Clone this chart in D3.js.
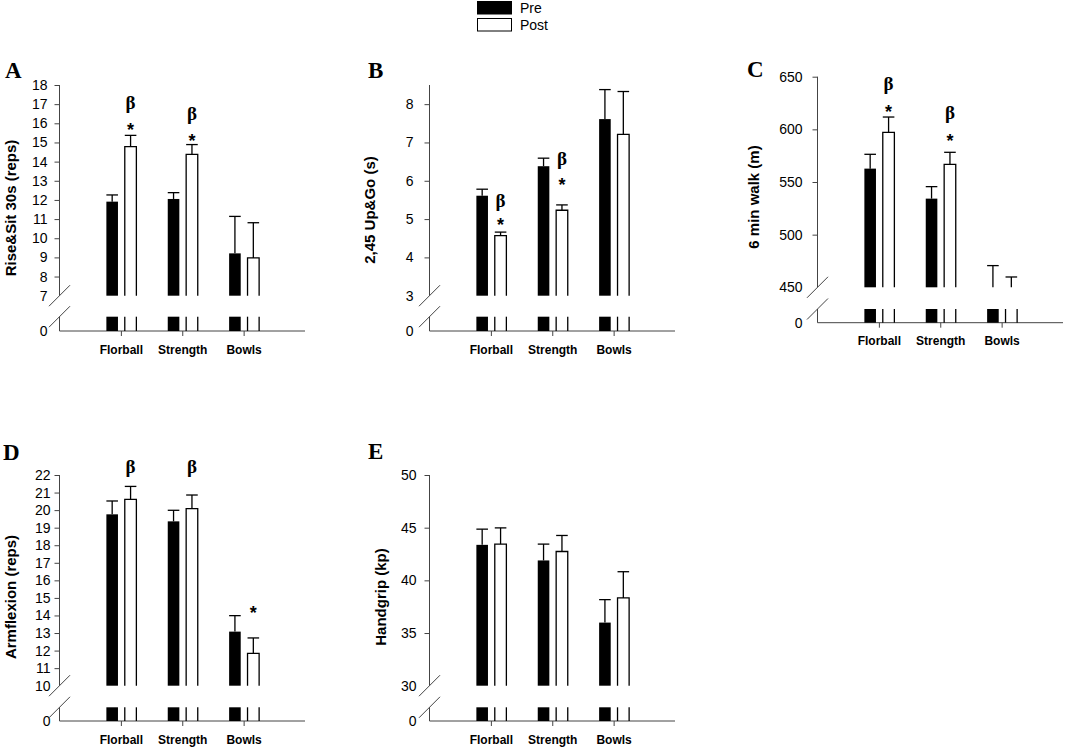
<!DOCTYPE html>
<html>
<head>
<meta charset="utf-8">
<script src="https://cdn.jsdelivr.net/npm/d3@7"></script>
<style>
  body { margin: 0; background: #fff; }
</style>
</head>
<body>
<svg id="chart" width="1065" height="747" font-family="Arial, 'Liberation Sans', sans-serif"></svg>
<script>
var groups = ["Florball", "Strength", "Bowls"];
var phases = ["Pre", "Post"];

// A - Rise&Sit 30s (reps), mean and SE
var riseSitPre = [11.91, 12.05, 9.21];
var riseSitPreSE = [0.35, 0.33, 1.93];
var riseSitPost = [14.78, 14.38, 8.97];
var riseSitPostSE = [0.59, 0.51, 1.84];
var riseSitTicks = [7, 8, 9, 10, 11, 12, 13, 14, 15, 16, 17, 18];
var riseSitMarks = [
  {group: "Florball", text: "β", at: 17.0}, {group: "Florball", text: "*", at: 15.9},
  {group: "Strength", text: "β", at: 16.45}, {group: "Strength", text: "*", at: 15.35}
];

// B - 2,45 Up&Go (s)
var upGoPre = [5.61, 6.38, 7.61];
var upGoPreSE = [0.17, 0.21, 0.77];
var upGoPost = [4.57, 5.23, 7.21];
var upGoPostSE = [0.09, 0.14, 1.12];
var upGoTicks = [3, 4, 5, 6, 7, 8];
var upGoMarks = [
  {group: "Florball", text: "β", at: 5.45}, {group: "Florball", text: "*", at: 4.98},
  {group: "Strength", text: "β", at: 6.54}, {group: "Strength", text: "*", at: 6.02}
];

// C - 6 min walk (m); Bowls means fall below the axis break
var walkPre = [562.7, 534.2, 445];
var walkPreSE = [13.6, 11.4, 25.6];
var walkPost = [597.2, 566.8, 445];
var walkPostSE = [14.5, 11.4, 14.8];
var walkTicks = [450, 500, 550, 600, 650];
var walkMarks = [
  {group: "Florball", text: "β", at: 642}, {group: "Florball", text: "*", at: 621},
  {group: "Strength", text: "β", at: 614.5}, {group: "Strength", text: "*", at: 593.5}
];

// D - Armflexion (reps)
var armPre = [19.76, 19.36, 13.08];
var armPreSE = [0.76, 0.63, 0.91];
var armPost = [20.61, 20.08, 11.84];
var armPostSE = [0.74, 0.78, 0.88];
var armTicks = [10, 11, 12, 13, 14, 15, 16, 17, 18, 19, 20, 21, 22];
var armMarks = [
  {group: "Florball", text: "β", at: 22.4},
  {group: "Strength", text: "β", at: 22.4},
  {group: "Bowls", text: "*", at: 14.4}
];

// E - Handgrip (kp)
var gripPre = [43.37, 41.89, 35.99];
var gripPreSE = [1.49, 1.55, 2.18];
var gripPost = [43.44, 42.74, 38.33];
var gripPostSE = [1.54, 1.52, 2.49];
var gripTicks = [30, 35, 40, 45, 50];
var gripMarks = [];

var panels = [
  {letter: "A", title: "Rise&Sit 30s (reps)", pre: riseSitPre, preSE: riseSitPreSE, post: riseSitPost, postSE: riseSitPostSE,
   ticks: riseSitTicks, marks: riseSitMarks, lo: 7, hi: 18,
   x0: 59.5, x1: 305, yTop: 85, yBreak: 295.7, yLow: 316.7, yZero: 331, pad: 7,
   letterX: 5, letterY: 78, labelX: 10, labelY: 208},
  {letter: "B", title: "2,45 Up&Go (s)", pre: upGoPre, preSE: upGoPreSE, post: upGoPost, postSE: upGoPostSE,
   ticks: upGoTicks, marks: upGoMarks, lo: 3, hi: 8.5,
   x0: 429.5, x1: 675, yTop: 85, yBreak: 295.7, yLow: 316.7, yZero: 331, pad: 11,
   letterX: 368, letterY: 78, labelX: 369.5, labelY: 210},
  {letter: "C", title: "6 min walk (m)", pre: walkPre, preSE: walkPreSE, post: walkPost, postSE: walkPostSE,
   ticks: walkTicks, marks: walkMarks, lo: 450, hi: 650,
   x0: 817.5, x1: 1063, yTop: 76.7, yBreak: 287.3, yLow: 309, yZero: 322.7, pad: 10,
   letterX: 747, letterY: 77, labelX: 753, labelY: 197},
  {letter: "D", title: "Armflexion (reps)", pre: armPre, preSE: armPreSE, post: armPost, postSE: armPostSE,
   ticks: armTicks, marks: armMarks, lo: 10, hi: 22,
   x0: 59.5, x1: 305, yTop: 475, yBreak: 685.7, yLow: 707.3, yZero: 721, pad: 4,
   letterX: 3, letterY: 460, labelX: 10, labelY: 597},
  {letter: "E", title: "Handgrip (kp)", pre: gripPre, preSE: gripPreSE, post: gripPost, postSE: gripPostSE,
   ticks: gripTicks, marks: gripMarks, lo: 30, hi: 50,
   x0: 429.5, x1: 675, yTop: 475, yBreak: 685.7, yLow: 707.3, yZero: 721, pad: 8,
   letterX: 368, letterY: 459, labelX: 380, labelY: 597}
];

var svg = d3.select("#chart");
var axisColor = "#444";
var sans = "Arial, 'Liberation Sans', sans-serif";
var serif = "'Liberation Serif', 'Times New Roman', serif";

function drawPanel(p) {
  var g = svg.append("g");
  var x = d3.scalePoint().domain(groups).range([p.x0, p.x1]).padding(1);
  var xb = d3.scaleBand().domain(phases).range([-14.5, 15.5]).paddingInner(0.37);
  var y = d3.scaleLinear().domain([p.lo, p.hi]).range([p.yBreak, p.yTop]);
  var yLower = d3.scaleLinear().domain([0, p.lo]).range([p.yZero, p.yLow]);
  var bw = xb.bandwidth();

  var rows = [];
  groups.forEach(function (gr, i) {
    rows.push({group: gr, phase: "Pre", v: p.pre[i], se: p.preSE[i]});
    rows.push({group: gr, phase: "Post", v: p.post[i], se: p.postSE[i]});
  });
  function left(d) { return x(d.group) + xb(d.phase); }

  // upper y axis
  var ga = g.append("g")
    .attr("transform", "translate(" + p.x0 + ",0)")
    .call(d3.axisLeft(y).tickValues(p.ticks).tickSize(5).tickPadding(p.pad).tickFormat(d3.format("d")));
  ga.attr("font-family", sans).attr("font-size", 14);
  ga.select(".domain").remove();
  ga.selectAll(".tick line").attr("stroke", axisColor);
  ga.selectAll(".tick").filter(function (d) { return d === p.lo; }).select("line").remove();
  ga.selectAll("text").attr("fill", "#000");
  g.append("line").attr("x1", p.x0).attr("x2", p.x0).attr("y1", y(p.hi)).attr("y2", y(p.lo))
    .attr("stroke", axisColor);

  // lower y axis (just zero)
  var gl = g.append("g")
    .attr("transform", "translate(" + p.x0 + ",0)")
    .call(d3.axisLeft(yLower).tickValues([0]).tickSize(5).tickPadding(p.pad).tickFormat(d3.format("d")));
  gl.attr("font-family", sans).attr("font-size", 14);
  gl.select(".domain").remove();
  gl.selectAll(".tick line").remove();
  gl.selectAll("text").attr("fill", "#000");
  g.append("line").attr("x1", p.x0).attr("x2", p.x0).attr("y1", p.yLow).attr("y2", p.yZero)
    .attr("stroke", axisColor);

  // break slashes
  [p.yBreak, p.yLow].forEach(function (yy) {
    g.append("line").attr("x1", p.x0 - 10.5).attr("y1", yy + 10.5).attr("x2", p.x0 + 10.5).attr("y2", yy - 10.5)
      .attr("stroke", axisColor);
  });

  // x axis
  var gx = g.append("g")
    .attr("transform", "translate(0," + p.yZero + ")")
    .call(d3.axisBottom(x).tickSize(5).tickPadding(9));
  gx.attr("font-family", sans).attr("font-size", 12).attr("font-weight", "bold");
  gx.select(".domain").remove();
  gx.selectAll(".tick line").attr("stroke", axisColor);
  gx.selectAll("text").attr("fill", "#000");
  g.append("line").attr("x1", p.x0).attr("x2", p.x1).attr("y1", p.yZero).attr("y2", p.yZero)
    .attr("stroke", axisColor);

  // upper bars
  rows.forEach(function (d) {
    var top = y(Math.max(d.v, p.lo));
    if (d.v > p.lo) {
      if (d.phase === "Pre") {
        g.append("rect").attr("x", left(d)).attr("y", top).attr("width", bw).attr("height", p.yBreak - top)
          .attr("fill", "#000");
      } else {
        g.append("path")
          .attr("d", "M" + left(d) + "," + p.yBreak + "V" + top + "H" + (left(d) + bw) + "V" + p.yBreak)
          .attr("fill", "#fff").attr("stroke", "#000").attr("stroke-width", 1.3);
      }
    }
    // error bar (upper only)
    var cx = left(d) + bw / 2;
    var et = y(d.v + d.se);
    g.append("line").attr("x1", cx).attr("x2", cx).attr("y1", top).attr("y2", et)
      .attr("stroke", "#000").attr("stroke-width", 1.3);
    g.append("line").attr("x1", left(d)).attr("x2", left(d) + bw).attr("y1", et).attr("y2", et)
      .attr("stroke", "#000").attr("stroke-width", 1.3);

    // lower stub
    if (d.phase === "Pre") {
      g.append("rect").attr("x", left(d)).attr("y", yLower(p.lo)).attr("width", bw)
        .attr("height", yLower(0) - yLower(p.lo)).attr("fill", "#000");
    } else {
      [left(d), left(d) + bw].forEach(function (xx) {
        g.append("line").attr("x1", xx).attr("x2", xx).attr("y1", yLower(p.lo)).attr("y2", yLower(0))
          .attr("stroke", "#000").attr("stroke-width", 1.3);
      });
    }
  });

  // significance marks above the Post bar
  p.marks.forEach(function (m) {
    var cx = x(m.group) + xb("Post") + bw / 2;
    var isBeta = m.text === "β";
    g.append("text").attr("x", cx).attr("y", y(m.at))
      .attr("dy", isBeta ? "0.28em" : "0.6em")
      .attr("text-anchor", "middle")
      .attr("font-family", isBeta ? serif : sans)
      .attr("font-weight", "bold")
      .attr("font-size", isBeta ? 19 : 18)
      .text(m.text);
  });

  // y label
  g.append("text")
    .attr("transform", "translate(" + p.labelX + "," + p.labelY + ") rotate(-90)")
    .attr("text-anchor", "middle").attr("dominant-baseline", "central")
    .attr("font-size", 15).attr("font-weight", "bold")
    .text(p.title);

  // panel letter
  g.append("text").attr("x", p.letterX).attr("y", p.letterY)
    .attr("font-family", serif)
    .attr("font-size", 23).attr("font-weight", "bold")
    .text(p.letter);
}

panels.forEach(drawPanel);

// legend
var legendFill = ["#000", "#fff"];
var lg = svg.append("g");
phases.forEach(function (ph, i) {
  lg.append("rect").attr("x", 477.5).attr("y", 1.5 + i * 17).attr("width", 34).attr("height", 12.5)
    .attr("fill", legendFill[i]).attr("stroke", "#000").attr("stroke-width", 1);
  lg.append("text").attr("x", 520).attr("y", 7.8 + i * 17).attr("dominant-baseline", "central")
    .attr("font-size", 14).text(ph);
});
</script>
</body>
</html>
